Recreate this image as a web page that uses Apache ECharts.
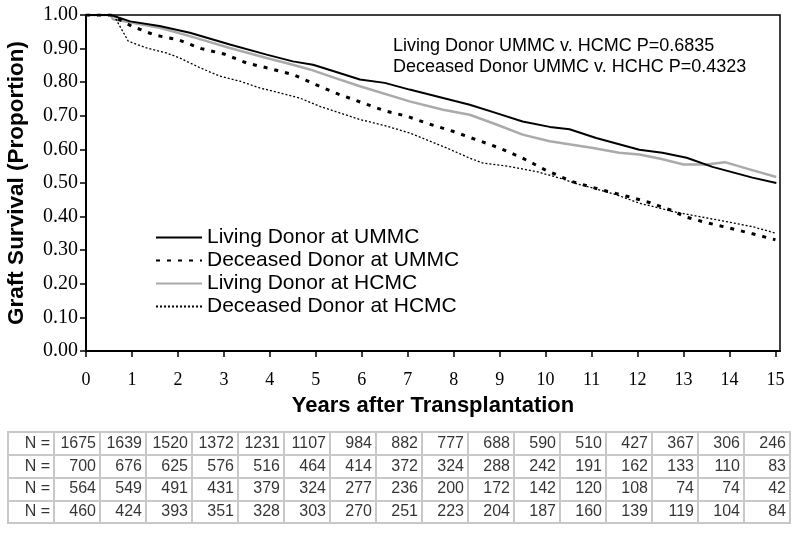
<!DOCTYPE html>
<html>
<head>
<meta charset="utf-8">
<script src="https://cdn.jsdelivr.net/npm/echarts@6/dist/echarts.min.js"></script>
<style>html,body{margin:0;padding:0;background:#fff}#c{width:800px;height:535px}</style>
</head>
<body>
<div id="c"></div>
<script>
// Survival curves: [years, proportion]
var livingUMMC = [[0,1.0],[0.54,1.0],[0.96,0.981],[1.6,0.967],[2.26,0.947],[3.13,0.912],[3.93,0.882],[4.5,0.862],[4.94,0.852],[5.41,0.832],[5.96,0.808],[6.5,0.798],[7.04,0.778],[7.77,0.753],[8.35,0.733],[8.93,0.708],[9.5,0.683],[10.09,0.667],[10.52,0.66],[11.1,0.634],[12.04,0.599],[12.54,0.59],[13.07,0.575],[13.63,0.548],[14.5,0.516],[15.02,0.50]];
var deceasedUMMC = [[0,1.0],[0.54,1.0],[0.99,0.967],[1.5,0.94],[1.99,0.927],[2.51,0.900],[3.0,0.884],[3.5,0.857],[4.02,0.840],[4.5,0.823],[5.0,0.793],[5.48,0.765],[5.99,0.740],[6.5,0.715],[7.0,0.698],[7.5,0.674],[7.98,0.654],[8.49,0.629],[9.0,0.604],[9.5,0.574],[9.98,0.540],[10.56,0.505],[11.2,0.48],[11.79,0.460],[12.26,0.442],[12.77,0.417],[13.02,0.400],[13.5,0.382],[14.0,0.366],[14.5,0.349],[15.0,0.331]];
var livingHCMC = [[0,1.0],[0.54,1.0],[0.59,0.987],[1.6,0.962],[2.26,0.937],[3.13,0.902],[3.93,0.872],[4.5,0.852],[4.87,0.838],[5.41,0.813],[5.96,0.788],[7.04,0.743],[7.77,0.718],[8.35,0.703],[8.93,0.674],[9.5,0.644],[10.09,0.624],[11.0,0.605],[11.6,0.590],[12.04,0.585],[12.5,0.572],[13.0,0.555],[13.5,0.555],[13.9,0.562],[14.4,0.542],[15.02,0.518]];
var deceasedHCMC = [[0,1.0],[0.6,1.0],[0.92,0.922],[1.32,0.902],[1.75,0.887],[2.04,0.872],[2.48,0.843],[2.91,0.818],[3.35,0.803],[3.78,0.783],[4.22,0.768],[4.65,0.753],[5.09,0.728],[5.96,0.689],[6.5,0.671],[7.04,0.649],[7.77,0.609],[8.35,0.574],[8.64,0.559],[9.22,0.549],[9.8,0.534],[10.3,0.515],[10.74,0.495],[11.03,0.485],[11.54,0.465],[12.04,0.440],[12.77,0.415],[13.35,0.400],[13.93,0.385],[14.5,0.370],[15.0,0.351]];

var seriesNames = ['Living Donor at UMMC','Deceased Donor at UMMC','Living Donor at HCMC','Deceased Donor at HCMC'];
var xTicks = [0,1,2,3,4,5,6,7,8,9,10,11,12,13,14,15];
var annotationLines = ['Living Donor UMMC v. HCMC P=0.6835','Deceased Donor UMMC v. HCHC P=0.4323'];

// Numbers at risk
var nLivingUMMC = [1675,1639,1520,1372,1231,1107,984,882,777,688,590,510,427,367,306,246];
var nDeceasedUMMC = [700,676,625,576,516,464,414,372,324,288,242,191,162,133,110,83];
var nLivingHCMC = [564,549,491,431,379,324,277,236,200,172,142,120,108,74,74,42];
var nDeceasedHCMC = [460,424,393,351,328,303,270,251,223,204,187,160,139,119,104,84];
var rowLabel = 'N =';

var tableRows = [nLivingUMMC, nDeceasedUMMC, nLivingHCMC, nDeceasedHCMC];
var tableCols = ['label'].concat(xTicks.map(function(t){return 'c'+t;}));
var tableData = [];
tableRows.forEach(function(row, r){
  tableData.push([0, r, rowLabel]);
  row.forEach(function(v, c){ tableData.push([c+1, r, String(v)]); });
});

var SANS = 'Liberation Sans, Arial, sans-serif';
var SERIF = 'Liberation Serif, Times New Roman, serif';
var CLEAR = 'rgba(0,0,0,0)';

var chart = echarts.init(document.getElementById('c'));
chart.setOption({
  animation: false,
  backgroundColor: '#fff',
  title: {
    text: annotationLines.join('\n'),
    left: 388, top: 31,
    textStyle: {fontFamily: SANS, fontSize: 18, fontWeight: 'normal', color: '#000', lineHeight: 21}
  },
  legend: {
    data: seriesNames,
    orient: 'vertical',
    left: 150, top: 222,
    itemWidth: 46, itemHeight: 14, itemGap: 2,
    itemStyle: {opacity: 0},
    textStyle: {fontFamily: SANS, fontSize: 21, color: '#000'}
  },
  grid: [
    {left: 86, top: 15, width: 694, height: 336, show: true, borderColor: '#000', borderWidth: 1.5, backgroundColor: 'transparent', outerBoundsMode: 'none', containLabel: false},
    {left: 8, top: 432, width: 782, height: 91, show: true, borderColor: '#c8c8c8', borderWidth: 2, backgroundColor: 'transparent', outerBoundsMode: 'none', containLabel: false}
  ],
  xAxis: [
    {
      type: 'value', gridIndex: 0, min: 0, max: 15.1, interval: 1,
      name: 'Years after Transplantation', nameLocation: 'middle', nameGap: 44,
      nameTextStyle: {fontFamily: SANS, fontSize: 22, fontWeight: 'bold', color: '#000'},
      axisLine: {show: true, lineStyle: {color: '#000', width: 2}},
      axisTick: {show: true, length: 6, lineStyle: {color: '#000', width: 1.5}, customValues: xTicks},
      axisLabel: {fontFamily: SERIF, fontSize: 18, color: '#000', margin: 20, customValues: xTicks},
      splitLine: {show: false}
    },
    {
      type: 'category', gridIndex: 1, data: tableCols, boundaryGap: true,
      axisLine: {show: false}, axisTick: {show: false}, axisLabel: {show: false},
      splitLine: {show: true, lineStyle: {color: '#c8c8c8', width: 2}}
    }
  ],
  yAxis: [
    {
      type: 'value', gridIndex: 0, min: 0, max: 1, interval: 0.1,
      name: 'Graft Survival (Proportion)', nameLocation: 'middle', nameGap: 58, nameRotate: 90,
      nameTextStyle: {fontFamily: SANS, fontSize: 22.5, fontWeight: 'bold', color: '#000'},
      axisLine: {show: true, lineStyle: {color: '#000', width: 2}},
      axisTick: {show: true, length: 6, lineStyle: {color: '#000', width: 1.5}},
      axisLabel: {fontFamily: SERIF, fontSize: 20, color: '#000', margin: 8, formatter: function(v){return v.toFixed(2);}},
      splitLine: {show: false}
    },
    {
      type: 'category', gridIndex: 1, data: ['r0','r1','r2','r3'], inverse: true, boundaryGap: true,
      axisLine: {show: false}, axisTick: {show: false}, axisLabel: {show: false},
      splitLine: {show: true, lineStyle: {color: '#c8c8c8', width: 2}}
    }
  ],
  series: [
    {name: seriesNames[0], type: 'line', xAxisIndex: 0, yAxisIndex: 0, data: livingUMMC, symbol: 'none', z: 5,
     lineStyle: {color: '#000', width: 2, type: 'solid'}, itemStyle: {color: CLEAR}},
    {name: seriesNames[1], type: 'line', xAxisIndex: 0, yAxisIndex: 0, data: deceasedUMMC, symbol: 'none', z: 4,
     lineStyle: {color: '#000', width: 3, type: [4, 7]}, itemStyle: {color: CLEAR}},
    {name: seriesNames[2], type: 'line', xAxisIndex: 0, yAxisIndex: 0, data: livingHCMC, symbol: 'none', z: 3,
     lineStyle: {color: '#aaaaaa', width: 2.5, type: 'solid'}, itemStyle: {color: CLEAR}},
    {name: seriesNames[3], type: 'line', xAxisIndex: 0, yAxisIndex: 0, data: deceasedHCMC, symbol: 'none', z: 3,
     lineStyle: {color: '#000', width: 1.3, type: [2, 2]}, itemStyle: {color: CLEAR}},
    {type: 'scatter', xAxisIndex: 1, yAxisIndex: 1, data: tableData, symbolSize: 1, silent: true,
     itemStyle: {color: CLEAR},
     label: {show: true, position: 'inside', align: 'right', verticalAlign: 'middle', offset: [19, 0],
             fontFamily: SANS, fontSize: 16, color: '#000',
             formatter: function(p){return p.value[2];}}}
  ]
});
</script>
</body>
</html>
